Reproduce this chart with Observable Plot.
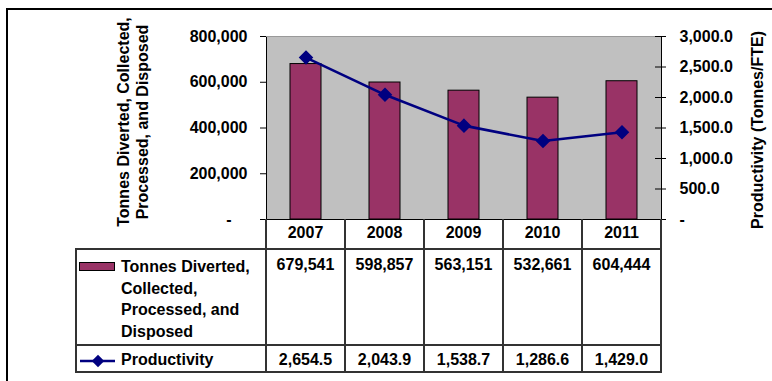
<!DOCTYPE html>
<html>
<head>
<meta charset="utf-8">
<script src="https://cdn.jsdelivr.net/npm/d3@7"></script>
<script src="https://cdn.jsdelivr.net/npm/@observablehq/plot@0.6"></script>
<style>
  html, body { margin: 0; padding: 0; background: #fff; overflow: hidden; }
  #wrap { position: relative; width: 772px; height: 381px; overflow: hidden;
          font-family: "Liberation Sans", Arial, sans-serif; font-weight: bold; font-size: 16px; color: #000; }
  #wrap svg { position: absolute; left: 0; top: 0; }
  .frame { position: absolute; left: 6px; top: 8px; width: 900px; height: 500px; border: 2px solid #000; box-sizing: border-box; }
  .hl, .vl { position: absolute; background: #333; }
  .cell { position: absolute; text-align: center; white-space: nowrap; }
  .leg { position: absolute; white-space: nowrap; }
</style>
</head>
<body>
<div id="wrap"><div class="frame"></div></div>
<script>
// Waste tonnage (bars, left axis) and productivity (line, right axis) by year
const years = ["2007", "2008", "2009", "2010", "2011"];
const tonnes = [679541, 598857, 563151, 532661, 604444];
const productivity = [2654.5, 2043.9, 1538.7, 1286.6, 1429.0];
const tonnesTicks = [0, 200000, 400000, 600000, 800000];
const productivityTicks = [0, 500, 1000, 1500, 2000, 2500, 3000];
const tonnesMax = 800000;
const productivityMax = 3000;

const productivityLabel = "Productivity";

const k = tonnesMax / productivityMax; // productivity -> left-axis units
const rows = years.map((year, i) => ({year, tonnes: tonnes[i], prod: productivity[i]}));

const fmtTonnes = d3.format(",");
const fmtProd = d3.format(",.1f");

const W = 772, H = 381;
const chart = Plot.plot({
  width: W,
  height: H,
  marginTop: 36,
  marginBottom: 162,
  marginLeft: 266,
  marginRight: 111,
  style: {fontFamily: "Liberation Sans, Arial, sans-serif", fontSize: "16px", fontWeight: "bold", background: "transparent"},
  x: {type: "band", domain: years, padding: 0, axis: null},
  y: {domain: [0, tonnesMax], axis: null},
  marks: [
    Plot.frame({fill: "#c0c0c0"}),
    Plot.barY(rows, {x: "year", y: "tonnes", fill: "#993366", stroke: "#000", strokeWidth: 1, insetLeft: 24, insetRight: 24}),
    Plot.line(rows, {x: "year", y: d => d.prod * k, stroke: "#000080", strokeWidth: 2.6}),
    Plot.dot(rows, {x: "year", y: d => d.prod * k, symbol: "diamond2", r: 5.6, fill: "#000080", stroke: "#000080"}),
    Plot.frame({stroke: "#000", strokeWidth: 1}),
    Plot.ruleY([tonnesMax], {stroke: "#999", strokeWidth: 1}),
    // left axis
    Plot.axisY({
      anchor: "left", ticks: tonnesTicks, tickSize: 6, tickPadding: 13, label: null,
      tickFormat: d => d === 0 ? "-\u2003" : fmtTonnes(d),
      fontSize: 16, fontWeight: "bold"
    }),
    // right axis (productivity scale)
    Plot.axisY({
      anchor: "right", ticks: productivityTicks.map(v => v * k), tickSize: 4, tickPadding: 14, label: null,
      tickFormat: d => { const v = Math.round(d / k * 10) / 10; return v === 0 ? "-" : fmtProd(v); },
      fontSize: 16, fontWeight: "bold"
    }),
    // inward half of the right-axis crossing ticks
    Plot.tickY(productivityTicks, {y: d => d * k, x: () => years[years.length - 1], insetLeft: 73, stroke: "#000"}),
    Plot.text(["Tonnes Diverted, Collected,\nProcessed, and Disposed"], {
      text: d => d, frameAnchor: "left", textAnchor: "middle", lineAnchor: "middle",
      rotate: -90, dx: -134, dy: -6, lineHeight: 1.2,
      fontSize: 16, fontWeight: "bold"
    }),
    Plot.text(["Productivity (Tonnes/FTE)"], {
      text: d => d, frameAnchor: "right", textAnchor: "middle", lineAnchor: "middle",
      rotate: -90, dx: 96, dy: 2,
      fontSize: 16, fontWeight: "bold"
    })
  ]
});

const wrap = document.getElementById("wrap");
wrap.appendChild(chart);

// Data table below the plot, columns aligned with the x scale
const xs = chart.scale("x");
const bw = xs.bandwidth;
const colLeft = years.map(y => xs.apply(y));
const right0 = colLeft[colLeft.length - 1] + bw;

const yAxis = 219, yHead = 249, ySplit = 345, yBottom = 372, tableLeft = 75;
const LW = 2;

function line(cls, x, y, w, h) {
  const d = document.createElement("div");
  d.className = cls;
  Object.assign(d.style, {left: x + "px", top: y + "px", width: w + "px", height: h + "px"});
  wrap.appendChild(d);
}
function text(cls, x, y, w, str) {
  const d = document.createElement("div");
  d.className = cls;
  Object.assign(d.style, {left: x + "px", top: y + "px"});
  if (w != null) d.style.width = w + "px";
  d.textContent = str;
  wrap.appendChild(d);
  return d;
}

// vertical column lines
[...colLeft, right0].forEach(x => line("vl", Math.round(x) - 1, yAxis, LW, yBottom - yAxis + 1));
line("vl", tableLeft, yHead, LW, yBottom - yHead + 1);
// horizontal lines
[yHead, ySplit, yBottom].forEach(y => line("hl", tableLeft, y - 1, Math.round(right0) - tableLeft + 1, LW));

// header years
years.forEach((y, i) => text("cell", colLeft[i], 224, bw, y));
// values
years.forEach((y, i) => {
  text("cell", colLeft[i], 256, bw, fmtTonnes(tonnes[i]));
  text("cell", colLeft[i], 351, bw, fmtProd(productivity[i]));
});

// legend keys
const sw = document.createElement("div");
Object.assign(sw.style, {position: "absolute", left: "79px", top: "262px", width: "36px", height: "9px",
  background: "#993366", border: "1px solid #000", boxSizing: "border-box"});
wrap.appendChild(sw);

const key = d3.create("svg").attr("width", 40).attr("height", 16)
  .style("position", "absolute").style("left", "78px").style("top", "353px");
key.append("line").attr("x1", 2).attr("x2", 37).attr("y1", 8).attr("y2", 8)
  .attr("stroke", "#000080").attr("stroke-width", 2.6);
key.append("path").attr("d", d3.symbol(d3.symbolDiamond2, Math.PI * 5.6 * 5.6)()).attr("transform", "translate(20,8)")
  .attr("fill", "#000080");
wrap.appendChild(key.node());

const lt = text("leg", 121, 256, null, "");
lt.style.lineHeight = "21.7px";
lt.innerHTML = "Tonnes Diverted,<br>Collected,<br>Processed, and<br>Disposed";
text("leg", 121, 351, null, productivityLabel);
</script>
</body>
</html>
